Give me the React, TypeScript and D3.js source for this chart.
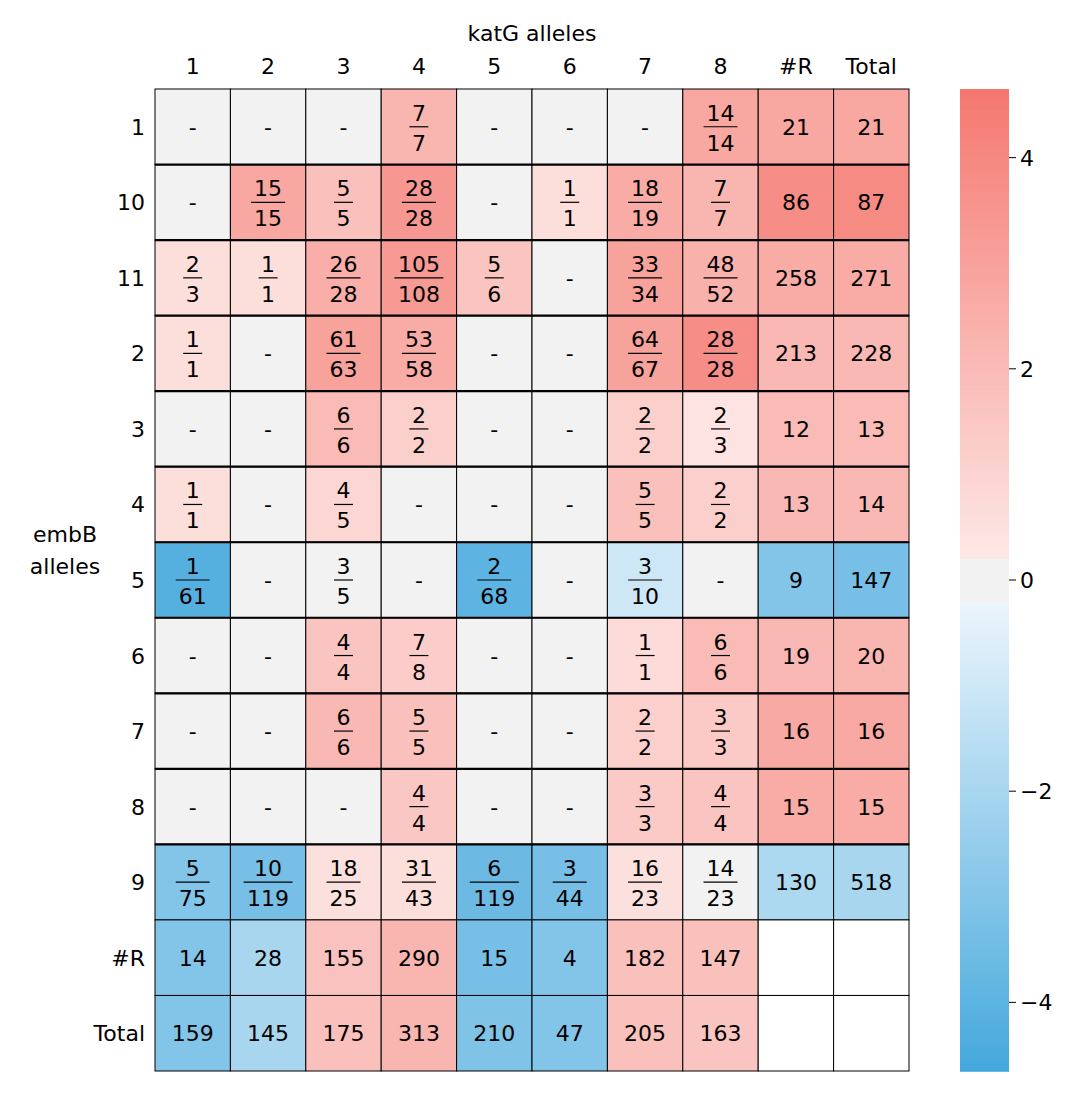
import React from "react";
import * as d3 from "d3";

const colLabels = ["1", "2", "3", "4", "5", "6", "7", "8", "#R", "Total"];
const rowLabels = ["1", "10", "11", "2", "3", "4", "5", "6", "7", "8", "9", "#R", "Total"];

// cell text: "a/b" for fractions, "-" for empty, "" for blank
const cellText: string[][] = [
  ["-", "-", "-", "7/7", "-", "-", "-", "14/14", "21", "21"],
  ["-", "15/15", "5/5", "28/28", "-", "1/1", "18/19", "7/7", "86", "87"],
  ["2/3", "1/1", "26/28", "105/108", "5/6", "-", "33/34", "48/52", "258", "271"],
  ["1/1", "-", "61/63", "53/58", "-", "-", "64/67", "28/28", "213", "228"],
  ["-", "-", "6/6", "2/2", "-", "-", "2/2", "2/3", "12", "13"],
  ["1/1", "-", "4/5", "-", "-", "-", "5/5", "2/2", "13", "14"],
  ["1/61", "-", "3/5", "-", "2/68", "-", "3/10", "-", "9", "147"],
  ["-", "-", "4/4", "7/8", "-", "-", "1/1", "6/6", "19", "20"],
  ["-", "-", "6/6", "5/5", "-", "-", "2/2", "3/3", "16", "16"],
  ["-", "-", "-", "4/4", "-", "-", "3/3", "4/4", "15", "15"],
  ["5/75", "10/119", "18/25", "31/43", "6/119", "3/44", "16/23", "14/23", "130", "518"],
  ["14", "28", "155", "290", "15", "4", "182", "147", "", ""],
  ["159", "145", "175", "313", "210", "47", "205", "163", "", ""],
];

const cellValues: (number | null)[][] = [
  [0, 0, 0, 2.2, 0, 0, 0, 2.8, 2.8, 2.8],
  [0, 2.8, 1.8, 3.4, 0, 0.6, 2.6, 2.2, 3.8, 3.9],
  [0.6, 0.6, 2.5, 3.3, 1.6, 0, 3.0, 2.4, 2.6, 2.6],
  [0.6, 0, 3.0, 2.6, 0, 0, 3.0, 3.8, 2.1, 2.1],
  [0, 0, 2.0, 1.2, 0, 0, 1.2, 0.4, 2.0, 2.0],
  [0.6, 0, 0.9, 0, 0, 0, 1.8, 1.2, 2.1, 2.1],
  [-4.2, 0, 0, 0, -4.0, 0, -1.0, 0, -3.0, -3.3],
  [0, 0, 1.6, 1.3, 0, 0, 0.7, 2.0, 2.1, 2.2],
  [0, 0, 2.1, 1.8, 0, 0, 1.2, 1.4, 2.7, 2.7],
  [0, 0, 0, 1.5, 0, 0, 1.4, 1.6, 2.6, 2.6],
  [-3.0, -3.3, 0.5, 0.6, -3.6, -3.3, 0.5, 0, -1.9, -2.0],
  [-3.0, -2.0, 1.7, 2.2, -3.3, -3.0, 1.8, 1.8, null, null],
  [-3.0, -2.0, 1.8, 2.2, -3.1, -3.0, 1.8, 1.6, null, null],
];

const cbTicks = [-4, -2, 0, 2, 4];
const vmax = 4.65;

const color = (v: number) => {
  if (Math.abs(v) < 0.2) return "#f2f2f2";
  if (v > 0) return d3.interpolateRgb("#fde8e6", "#f57870")((v - 0.2) / (vmax - 0.2));
  return d3.interpolateRgb("#ecf5fc", "#44a8dc")((-v - 0.2) / (vmax - 0.2));
};

const x0 = 155, x1 = 909, y0 = 89, y1 = 1071;
const font = "DejaVu Sans";

export default function App() {
  const x = d3.scaleBand<string>().domain(colLabels).range([x0, x1]);
  const y = d3.scaleBand<string>().domain(rowLabels).range([y0, y1]);
  const cbY = d3.scaleLinear().domain([-vmax, vmax]).range([y1, y0]);
  const steps = d3.range(0, 400).map((i) => -vmax + (i + 0.5) * (2 * vmax) / 400);
  const bw = x.bandwidth(), bh = y.bandwidth();

  return (
    <svg width={1089} height={1095} style={{ position: "absolute", left: 0, top: 0 }} fontFamily={font}>
      <rect width={1089} height={1095} fill="#fff" />
      {rowLabels.map((r, i) =>
        colLabels.map((c, j) => {
          const v = cellValues[i][j];
          const t = cellText[i][j];
          const cx = x(c)! + bw / 2, cy = y(r)! + bh / 2;
          const frac = t.includes("/") ? t.split("/") : null;
          return (
            <g key={r + "-" + c}>
              <rect x={x(c)} y={y(r)} width={bw} height={bh} fill={v === null ? "#fff" : color(v)} stroke="#000" strokeWidth={1} />
              {frac ? (
                <g fontSize={22} textAnchor="middle">
                  <text x={cx} y={cy - 6}>{frac[0]}</text>
                  <line x1={cx - frac[1].length * 7.5 - 2} x2={cx + frac[1].length * 7.5 + 2} y1={cy} y2={cy} stroke="#000" strokeWidth={1.2} />
                  <text x={cx} y={cy + 24}>{frac[1]}</text>
                </g>
              ) : (
                <text x={cx} y={cy + 8} fontSize={22} textAnchor="middle">{t}</text>
              )}
            </g>
          );
        })
      )}
      {rowLabels.slice(1, 11).map((r) => (
        <line key={"h" + r} x1={x0} x2={x1} y1={y(r)} y2={y(r)} stroke="#000" strokeWidth={2.2} />
      ))}
      {rowLabels.map((r) => (
        <text key={"rl" + r} x={145} y={y(r)! + bh / 2 + 8} fontSize={22} textAnchor="end">{r}</text>
      ))}
      {colLabels.map((c) => (
        <text key={"cl" + c} x={x(c)! + bw / 2} y={74} fontSize={22} textAnchor="middle">{c}</text>
      ))}
      <text x={532} y={41} fontSize={22} textAnchor="middle">katG alleles</text>
      <text x={65} y={542} fontSize={22} textAnchor="middle">embB</text>
      <text x={65} y={574} fontSize={22} textAnchor="middle">alleles</text>
      {steps.map((s, i) => (
        <rect key={"cb" + i} x={960} width={49} y={cbY(s + vmax / 400)} height={(y1 - y0) / 400 + 0.8} fill={color(s)} />
      ))}
      {cbTicks.map((t) => (
        <g key={"t" + t}>
          <line x1={1009} x2={1016} y1={cbY(t)} y2={cbY(t)} stroke="#000" />
          <text x={1020} y={cbY(t) + 8} fontSize={22}>{t < 0 ? "\u2212" + Math.abs(t) : t}</text>
        </g>
      ))}
    </svg>
  );
}
